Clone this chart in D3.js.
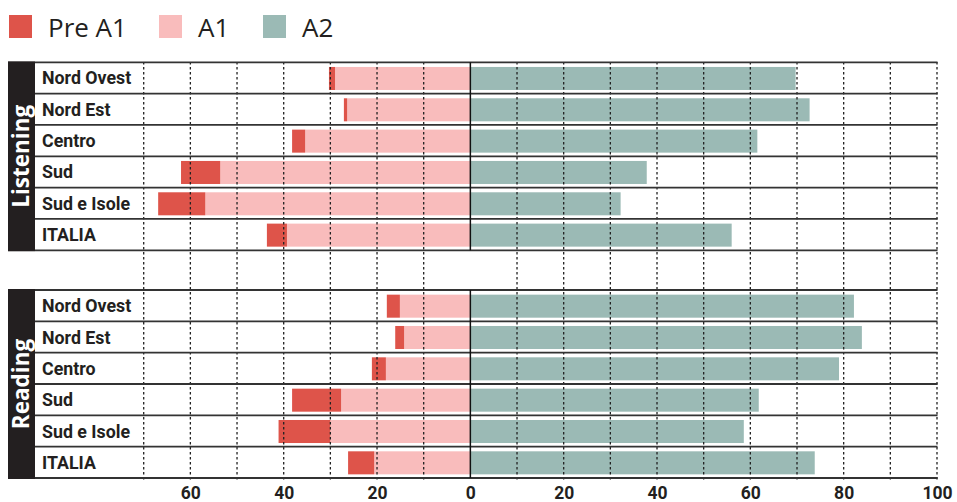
<!DOCTYPE html>
<html><head><meta charset="utf-8">
<script src="https://cdn.jsdelivr.net/npm/d3@7"></script>
<style>body{margin:0;background:#fff}svg{display:block}</style>
</head><body><svg id="c" width="957" height="502"></svg>
<script>
const regions = ["Nord Ovest","Nord Est","Centro","Sud","Sud e Isole","ITALIA"];
const sections = ["Listening","Reading"];
const seriesNames = ["Pre A1","A1","A2"];
const colors = ["#de544a","#f9bcbc","#9bbab5"];
// Listening
const listeningPreA1 = [1.3,0.7,2.8,8.4,10.1,4.3];
const listeningA1    = [29.0,26.4,35.4,53.6,56.8,39.3];
const listeningA2    = [69.7,72.7,61.5,37.8,32.2,56.0];
// Reading
const readingPreA1 = [2.8,1.9,3.0,10.5,11.1,5.6];
const readingA1    = [15.1,14.2,18.1,27.7,30.0,20.6];
const readingA2    = [82.2,83.9,79.0,61.8,58.6,73.8];
const tickValues = [-60,-40,-20,0,20,40,60,80,100];
const gridValues = [-70,-60,-50,-40,-30,-20,-10,10,20,30,40,50,60,70,80,90,100];

const data = [
  {name:"Listening", pre:listeningPreA1, a1:listeningA1, a2:listeningA2},
  {name:"Reading", pre:readingPreA1, a1:readingA1, a2:readingA2}
];

const svg = d3.select("#c");
const x = d3.scaleLinear().domain([-70,100]).range([143.7,937]);
const sectionRanges = [[62.3,250.3],[290,478]];
const ink = "#231f20";

// legend
const legendX = [9,159,263];
seriesNames.forEach((n,i)=>{
  svg.append("rect").attr("x",legendX[i]).attr("y",15).attr("width",23).attr("height",23).attr("fill",colors[i]);
  svg.append("text").attr("x",legendX[i]+39).attr("y",37).text(n)
    .attr("font-family","Open Sans").attr("font-size",26).attr("fill",ink);
});

const gBars = svg.append("g"), gGrid = svg.append("g"), gLines = svg.append("g");

data.forEach((s,si)=>{
  const [y0,y1] = sectionRanges[si];
  const y = d3.scaleBand().domain(regions).range([y0,y1]);
  const bh = y.bandwidth()*0.735;
  const off = (y.bandwidth()-bh)/2 + 0.5;
  regions.forEach((r,i)=>{
    const a1 = s.a1[i], pre = s.pre[i], a2 = s.a2[i];
    gBars.append("rect").attr("x",x(-a1)).attr("width",x(0)-x(-a1))
      .attr("y",y(r)+off).attr("height",bh).attr("fill",colors[1]);
    gBars.append("rect").attr("x",x(-a1-pre)).attr("width",x(-a1)-x(-a1-pre))
      .attr("y",y(r)+off).attr("height",bh).attr("fill",colors[0]);
    gBars.append("rect").attr("x",x(0)).attr("width",x(a2)-x(0))
      .attr("y",y(r)+off).attr("height",bh).attr("fill",colors[2]);
    svg.append("text").attr("x",42).attr("y",y(r)+y.bandwidth()/2+6.5).text(r)
      .attr("font-family","Roboto").attr("font-weight",700).attr("font-size",17.8).attr("fill",ink);
  });
  const bounds = regions.map(r=>y(r)).concat([y1]);
  bounds.forEach(b=>{
    gLines.append("line").attr("x1",35).attr("x2",937.5).attr("y1",b).attr("y2",b)
      .attr("stroke","#333").attr("stroke-width",1.8);
  });
  gLines.append("line").attr("x1",x(0)).attr("x2",x(0)).attr("y1",y0).attr("y2",y1)
    .attr("stroke","#111").attr("stroke-width",1.5);
  svg.append("rect").attr("x",8).attr("y",y0-1).attr("width",27).attr("height",y1-y0+2).attr("fill",ink);
  svg.append("text").attr("transform",`translate(29,${(y0+y1)/2}) rotate(-90)`)
    .attr("text-anchor","middle").text(s.name)
    .attr("font-family","Open Sans").attr("font-weight",700).attr("font-size",22.5).attr("fill","#fff");
});

gridValues.forEach(v=>{
  gGrid.append("line").attr("x1",x(v)).attr("x2",x(v)).attr("y1",62).attr("y2",480)
    .attr("stroke","#222").attr("stroke-width",1.3).attr("stroke-dasharray","2.5,2.5");
});

const axis = d3.axisBottom(x).tickValues(tickValues).tickSize(0).tickPadding(0).tickFormat(d=>Math.abs(d));
const ga = svg.append("g").attr("transform","translate(0,499)").call(axis);
ga.select(".domain").remove();
ga.selectAll("text").attr("font-family","Roboto").attr("font-weight",700).attr("font-size",17.5).attr("fill",ink).attr("y",0).attr("dy",0);
</script></body></html>
